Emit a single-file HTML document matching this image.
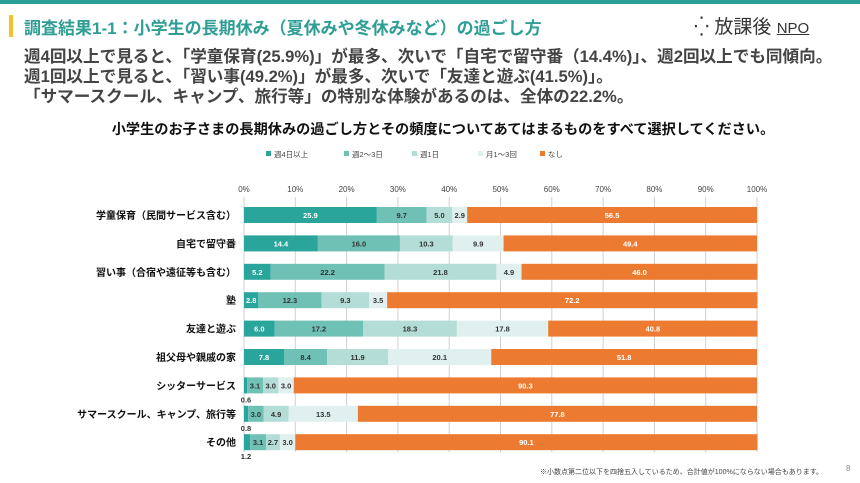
<!DOCTYPE html>
<html><head><meta charset="utf-8"><style>
body{margin:0;width:860px;height:483px;background:#fff;font-family:"Liberation Sans","Noto Sans CJK JP",sans-serif;overflow:hidden;position:relative}
.a{position:absolute;white-space:nowrap}
</style></head><body>
<div class="a" style="left:0;top:0;width:860px;height:4px;background:#2a9d94"></div>
<div class="a" style="left:9px;top:15px;width:4px;height:22px;background:#f2c12e"></div>
<div class="a" style="left:24px;top:14px;font-size:17px;font-weight:bold;color:#2f9e95">調査結果1-1：小学生の長期休み（夏休みや冬休みなど）の過ごし方</div>
<div class="a" style="left:694px;top:12px;font-size:19px;color:#333">⁛ 放課後 <span style="font-size:15px;text-decoration:underline">NPO</span></div>
<div class="a" style="left:24px;top:47px;font-size:16.6px;font-weight:bold;color:#444;line-height:20px">週4回以上で見ると、「学童保育(25.9%)」が最多、次いで「自宅で留守番（14.4%)」、週2回以上でも同傾向。<br>週1回以上で見ると、「習い事(49.2%)」が最多、次いで「友達と遊ぶ(41.5%)」。<br>「サマースクール、キャンプ、旅行等」の特別な体験があるのは、全体の22.2%。</div>
<div class="a" style="left:0;width:886px;text-align:center;top:119px;font-size:14.2px;font-weight:bold;color:#111">小学生のお子さまの長期休みの過ごし方とその頻度についてあてはまるものをすべて選択してください。</div>
<div class="a" style="left:540px;top:467px;font-size:7px;color:#444">※小数点第二位以下を四捨五入しているため、合計値が100%にならない場合もあります。</div>
<div class="a" style="left:846px;top:464px;font-size:8px;color:#888">8</div>
<svg id="c" class="a" style="left:0;top:0" width="860" height="483"></svg>
<script>
const categories=["学童保育（民間サービス含む）","自宅で留守番","習い事（合宿や遠征等も含む）","塾","友達と遊ぶ","祖父母や親戚の家","シッターサービス","サマースクール、キャンプ、旅行等","その他"];
const seriesNames=["週4日以上","週2～3日","週1日","月1～3回","なし"];
const s1=[25.9,14.4,5.2,2.8,6.0,7.8,0.6,0.8,1.2];
const s2=[9.7,16.0,22.2,12.3,17.2,8.4,3.1,3.0,3.1];
const s3=[5.0,10.3,21.8,9.3,18.3,11.9,3.0,4.9,2.7];
const s4=[2.9,9.9,4.9,3.5,17.8,20.1,3.0,13.5,3.0];
const s5=[56.5,49.4,46.0,72.2,40.8,51.8,90.3,77.8,90.1];
const ticks=[0,10,20,30,40,50,60,70,80,90,100];
const colors=["#2aa59b","#6fc1b5","#b3ddd6","#dff0ee","#ec7b31"];
const svg=document.getElementById('c');const NS="http://www.w3.org/2000/svg";
const X0=244,X1=757,Y0=215,DY=28.4,BH=16;
const xs=v=>X0+(X1-X0)*v/100, ys=i=>Y0+i*DY;
function mk(t,a){const e=document.createElementNS(NS,t);for(const k in a)e.setAttribute(k,a[k]);svg.appendChild(e);return e;}
ticks.forEach(t=>{
 const l=mk('line',{x1:xs(t),x2:xs(t),y1:197,y2:452,stroke:'#d0d0d0','stroke-width':1});
 
 
 const tx=mk('text',{x:xs(t),y:192,'font-size':8,'text-anchor':'middle',fill:'#444'});tx.textContent=t+'%';
 
 
});
const lx=[266,344,412,478,540];
seriesNames.forEach((n,i)=>{
 const r=mk('rect',{x:lx[i],y:151,width:5,height:5,fill:colors[i]});
 
 
 const t=mk('text',{x:lx[i]+8,y:157,'font-size':7.5,fill:'#444'});t.textContent=n;
 
 
});
const series=[s1,s2,s3,s4,s5];
categories.forEach((c,i)=>{
 const y=ys(i);
 const lb=mk('text',{x:236,y:y+4,'font-size':10,'font-weight':'bold','text-anchor':'end',fill:'#111'});lb.textContent=c;
 
 
 let acc=0;
 series.forEach((s,k)=>{
  const v=s[i];
  const r=mk('rect',{x:xs(acc),y:y-BH/2,width:xs(acc+v)-xs(acc),height:BH,fill:colors[k]});
  
  
  const small=v<1.5;
  const t=mk('text',{x:small?xs(acc)+2:xs(acc+v/2),y:small?y+17:y+3,'font-size':7.5,'font-weight':'bold','text-anchor':'middle',fill:k==0||k==4?(small?'#333':'#fff'):'#333'});
  t.textContent=v.toFixed(1);
  
  
  acc+=v;
 });
});
</script>
</body></html>
